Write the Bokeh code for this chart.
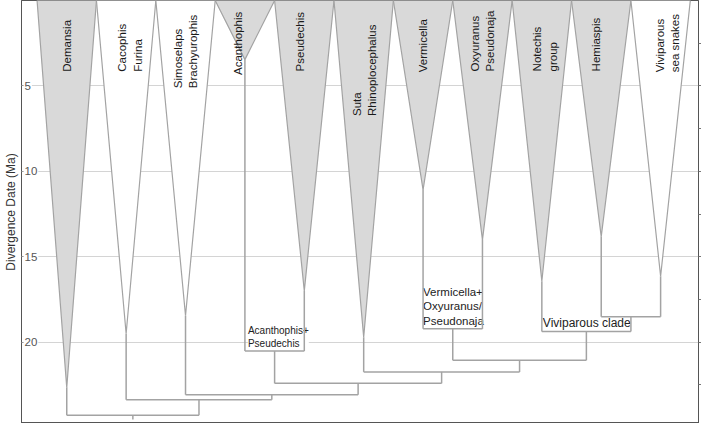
from bokeh.plotting import figure
from bokeh.models import Range1d, LinearAxis, FixedTicker
from bokeh.embed import file_html
from bokeh.resources import INLINE
from bokeh.core.properties import value

# ---------------- data ----------------
clades = ["Demansia", "Cacophis Furina", "Simoselaps Brachyurophis", "Acanthophis",
          "Pseudechis", "Suta Rhinoplocephalus", "Vermicella", "Oxyuranus Pseudonaja",
          "Notechis group", "Hemiaspis", "Viviparous sea snakes"]
clade_labels = ["Demansia", "Cacophis\nFurina", "Simoselaps\nBrachyurophis", "Acanthophis",
                "Pseudechis", "Suta\nRhinoplocephalus", "Vermicella", "Oxyuranus\nPseudonaja",
                "Notechis\ngroup", "Hemiaspis", "Viviparous\nsea snakes"]
crown_age = [22.66, 19.51, 18.45, 3.46, 17.0, 19.71, 11.08, 14.01, 16.43, 13.82, 16.14]
shaded = [True, False, False, True, True, True, True, True, True, True, False]

# internal nodes: (name, left child, right child, divergence date Ma)
nodes = [
    ("AP", "Acanthophis", "Pseudechis", 20.52),
    ("VO", "Vermicella", "Oxyuranus Pseudonaja", 19.22),
    ("HS", "Hemiaspis", "Viviparous sea snakes", 18.51),
    ("VIV", "Notechis group", "HS", 19.38),
    ("VOVIV", "VO", "VIV", 21.06),
    ("SUTA", "Suta Rhinoplocephalus", "VOVIV", 21.74),
    ("APS", "AP", "SUTA", 22.41),
    ("SIM", "Simoselaps Brachyurophis", "APS", 23.08),
    ("CAC", "Cacophis Furina", "SIM", 23.37),
    ("ROOT", "Demansia", "CAC", 24.28),
]
root_stem_end = 24.53

node_labels = {"AP": "Acanthophis+\nPseudechis",
               "VO": "Vermicella+\nOxyuranus/\nPseudonaja",
               "VIV": "Viviparous clade"}

y_ticks = [5, 10, 15, 20]
y_tick_labels = ["5", "10", "15", "20"]
right_ticks = [2.5, 5, 7.5, 10, 12.5, 15, 17.5, 20, 22.5]

# ---------------- layout / style ----------------
label_start = [4.17, 4.17, 5.13, 4.36, 4.15, 6.76, 4.2, 4.15, 4.15, 4.15, 4.2]
label_dx = [0, 4, 0, -7, -4, 1, 0, 0, 3, -5, 7]
node_label_size = {"AP": "10px", "VO": "11.5px", "VIV": "12px"}
node_label_dx = {"AP": 3, "VO": 0, "VIV": 1}

GRAY_FILL = "#d9d9d9"
EDGE = "#a3a3a3"
FONT = "Liberation Sans"

p = figure(width=701, height=423, output_backend="svg", toolbar_location=None,
           x_range=Range1d(-0.262, 11.138), y_range=Range1d(24.76, 0),
           x_axis_location=None, y_axis_location=None,
           min_border_left=0, min_border_right=0, min_border_top=0, min_border_bottom=0)
p.background_fill_color = "white"
p.border_fill_color = "white"
p.outline_line_color = "#555555"
p.outline_line_width = 1

# axes (tick marks only; numbers are drawn inside the frame below)
yl = LinearAxis(ticker=FixedTicker(ticks=[], minor_ticks=y_ticks),
                axis_label="Divergence Date (Ma)")
yl.axis_label_text_font = FONT
yl.axis_label_text_font_size = "12px"
yl.axis_label_text_font_style = "normal"
yl.axis_label_text_color = "#333333"
yl.axis_label_standoff = 4
yl.minor_tick_in = 2
yl.minor_tick_out = 0
yl.minor_tick_line_color = "#999999"
yl.major_tick_line_color = None
yl.axis_line_color = "#555555"
p.add_layout(yl, "left")

yr = LinearAxis(ticker=FixedTicker(ticks=[], minor_ticks=right_ticks))
yr.minor_tick_in = 0
yr.minor_tick_out = 3
yr.minor_tick_line_color = "#777777"
yr.major_tick_line_color = None
yr.axis_line_color = "#555555"
p.add_layout(yr, "right")

p.ygrid.ticker = FixedTicker(ticks=y_ticks)
p.ygrid.grid_line_color = "#d4d4d4"
p.xgrid.grid_line_color = None

# triangles
xs, ys, fills = [], [], []
for i, (age, sh) in enumerate(zip(crown_age, shaded)):
    xs.append([i, i + 1, i + 0.5])
    ys.append([0, 0, age])
    fills.append(GRAY_FILL if sh else "white")
p.patches(xs=xs, ys=ys, fill_color=fills, line_color=EDGE, line_width=1.2)

# tree geometry
pos = {c: i + 0.5 for i, c in enumerate(clades)}
depth = {c: a for c, a in zip(clades, crown_age)}
x0s, y0s, x1s, y1s = [], [], [], []
for name, l, r, d in nodes:
    pos[name] = (pos[l] + pos[r]) / 2
    for c in (l, r):
        x0s.append(pos[c]); y0s.append(depth[c]); x1s.append(pos[c]); y1s.append(d)
    x0s.append(pos[l]); y0s.append(d); x1s.append(pos[r]); y1s.append(d)
    depth[name] = d
x0s.append(pos["ROOT"]); y0s.append(depth["ROOT"]); x1s.append(pos["ROOT"]); y1s.append(root_stem_end)

# node labels with white background (drawn before the tree lines)
for name, l, r, d in nodes:
    if name in node_labels:
        p.text(x=[pos[l]], y=[d], text=[node_labels[name]],
               x_offset=node_label_dx[name], y_offset=-2,
               text_align="left", text_baseline="bottom",
               text_font=value(FONT), text_font_size=node_label_size[name],
               text_color="#222222", text_line_height=1.2,
               background_fill_color="white")

p.segment(x0=x0s, y0=y0s, x1=x1s, y1=y1s, line_color=EDGE, line_width=1.5)

# clade labels (rotated)
p.text(x=[pos[c] for c in clades], y=label_start, text=clade_labels, angle=1.5708,
       x_offset=label_dx, text_align="left", text_baseline="middle",
       text_font=value(FONT), text_font_size="11.5px", text_color="#1a1a1a",
       text_line_height=1.3)

# y tick labels drawn inside the frame
p.text(x=[-0.262] * len(y_ticks), y=y_ticks, text=y_tick_labels, x_offset=2,
       text_align="left", text_baseline="middle", text_font=value(FONT),
       text_font_size="11.5px", text_color="#555555",
       background_fill_color="white", padding=1)

open("out.html", "w").write(file_html(p, INLINE))
